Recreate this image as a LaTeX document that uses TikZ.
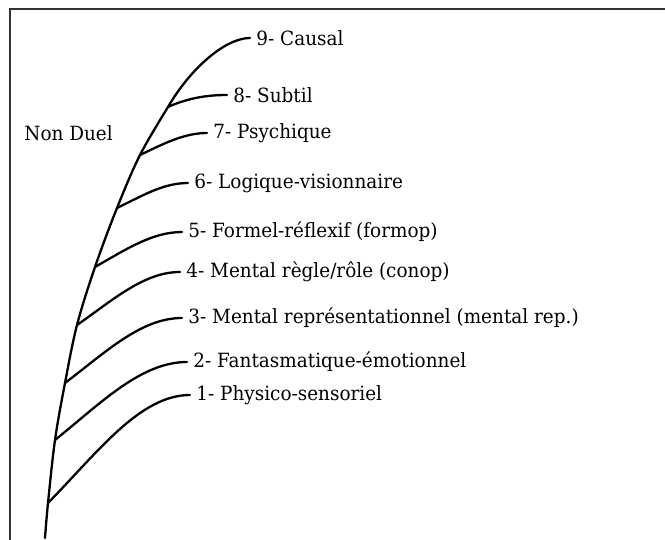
\documentclass[tikz,border=0pt]{standalone}
\usepackage{fontspec}
\setmainfont{DejaVu Serif}[FakeStretch=0.94]
\usepackage{tikz}
\usetikzlibrary{positioning}

\begin{document}
\begin{tikzpicture}[x=0.5pt, y=-0.5pt,
    stage/.style={anchor=west, inner xsep=3pt, inner ysep=1pt, font=\fontsize{9.8}{12}\selectfont},
    branch/.style={line width=1.15pt, line cap=round}]
  \useasboundingbox (0,0) rectangle (665,540);

  % cadre
  \draw[line width=1pt, black!80] (10,545) -- (10,9) -- (670,9);

  % niveaux
  \node[stage] (n9) at (250,38) {9- Causal};
  \node[stage] (n8) at (227,95) {8- Subtil};
  \node[stage] (n7) at (207,133) {7- Psychique};
  \node[stage] (n6) at (188,183) {6- Logique-visionnaire};
  \node[stage] (n5) at (182,232) {5- Formel-réflexif (formop)};
  \node[stage] (n4) at (180,272) {4- Mental règle/rôle (conop)};
  \node[stage] (n3) at (182,318) {3- Mental représentationnel (mental rep.)};
  \node[stage] (n2) at (187,362) {2- Fantasmatique-émotionnel};
  \node[stage] (n1) at (190,395) {1- Physico-sensoriel};
  \node[stage, inner xsep=0pt] (nonduel) at (24,133) {Non Duel};

  % tronc
  \coordinate (s0) at (45,538);
  \coordinate (j1) at (48,503);
  \coordinate (j2) at (55,440);
  \coordinate (j3) at (65,383);
  \coordinate (j4) at (77,325);
  \coordinate (j5) at (95,267);
  \coordinate (j6) at (117,208);
  \coordinate (j7) at (140,155);
  \coordinate (j8) at (168,107);
  \draw[branch] plot[smooth, tension=0.55] coordinates {(s0) (j1) (j2) (j3) (j4) (j5) (j6) (j7) (j8)}
    .. controls +(22,-38) and +(-25,0) .. (n9.west);

  % branches
  \draw[branch] (j1) .. controls +(50,-51) and +(-50,0) .. (n1.west);
  \draw[branch] (j2) .. controls +(46,-37) and +(-46,0) .. (n2.west);
  \draw[branch] (j3) .. controls +(41,-31) and +(-41,0) .. (n3.west);
  \draw[branch] (j4) .. controls +(36,-25) and +(-36,0) .. (n4.west);
  \draw[branch] (j5) .. controls +(30,-17) and +(-30,0) .. (n5.west);
  \draw[branch] (j6) .. controls +(25,-12) and +(-25,0) .. (n6.west);
  \draw[branch] (j7) .. controls +(23,-11) and +(-23,0) .. (n7.west);
  \draw[branch] (j8) .. controls +(20,-9) and +(-20,0) .. (n8.west);
\end{tikzpicture}
\end{document}
